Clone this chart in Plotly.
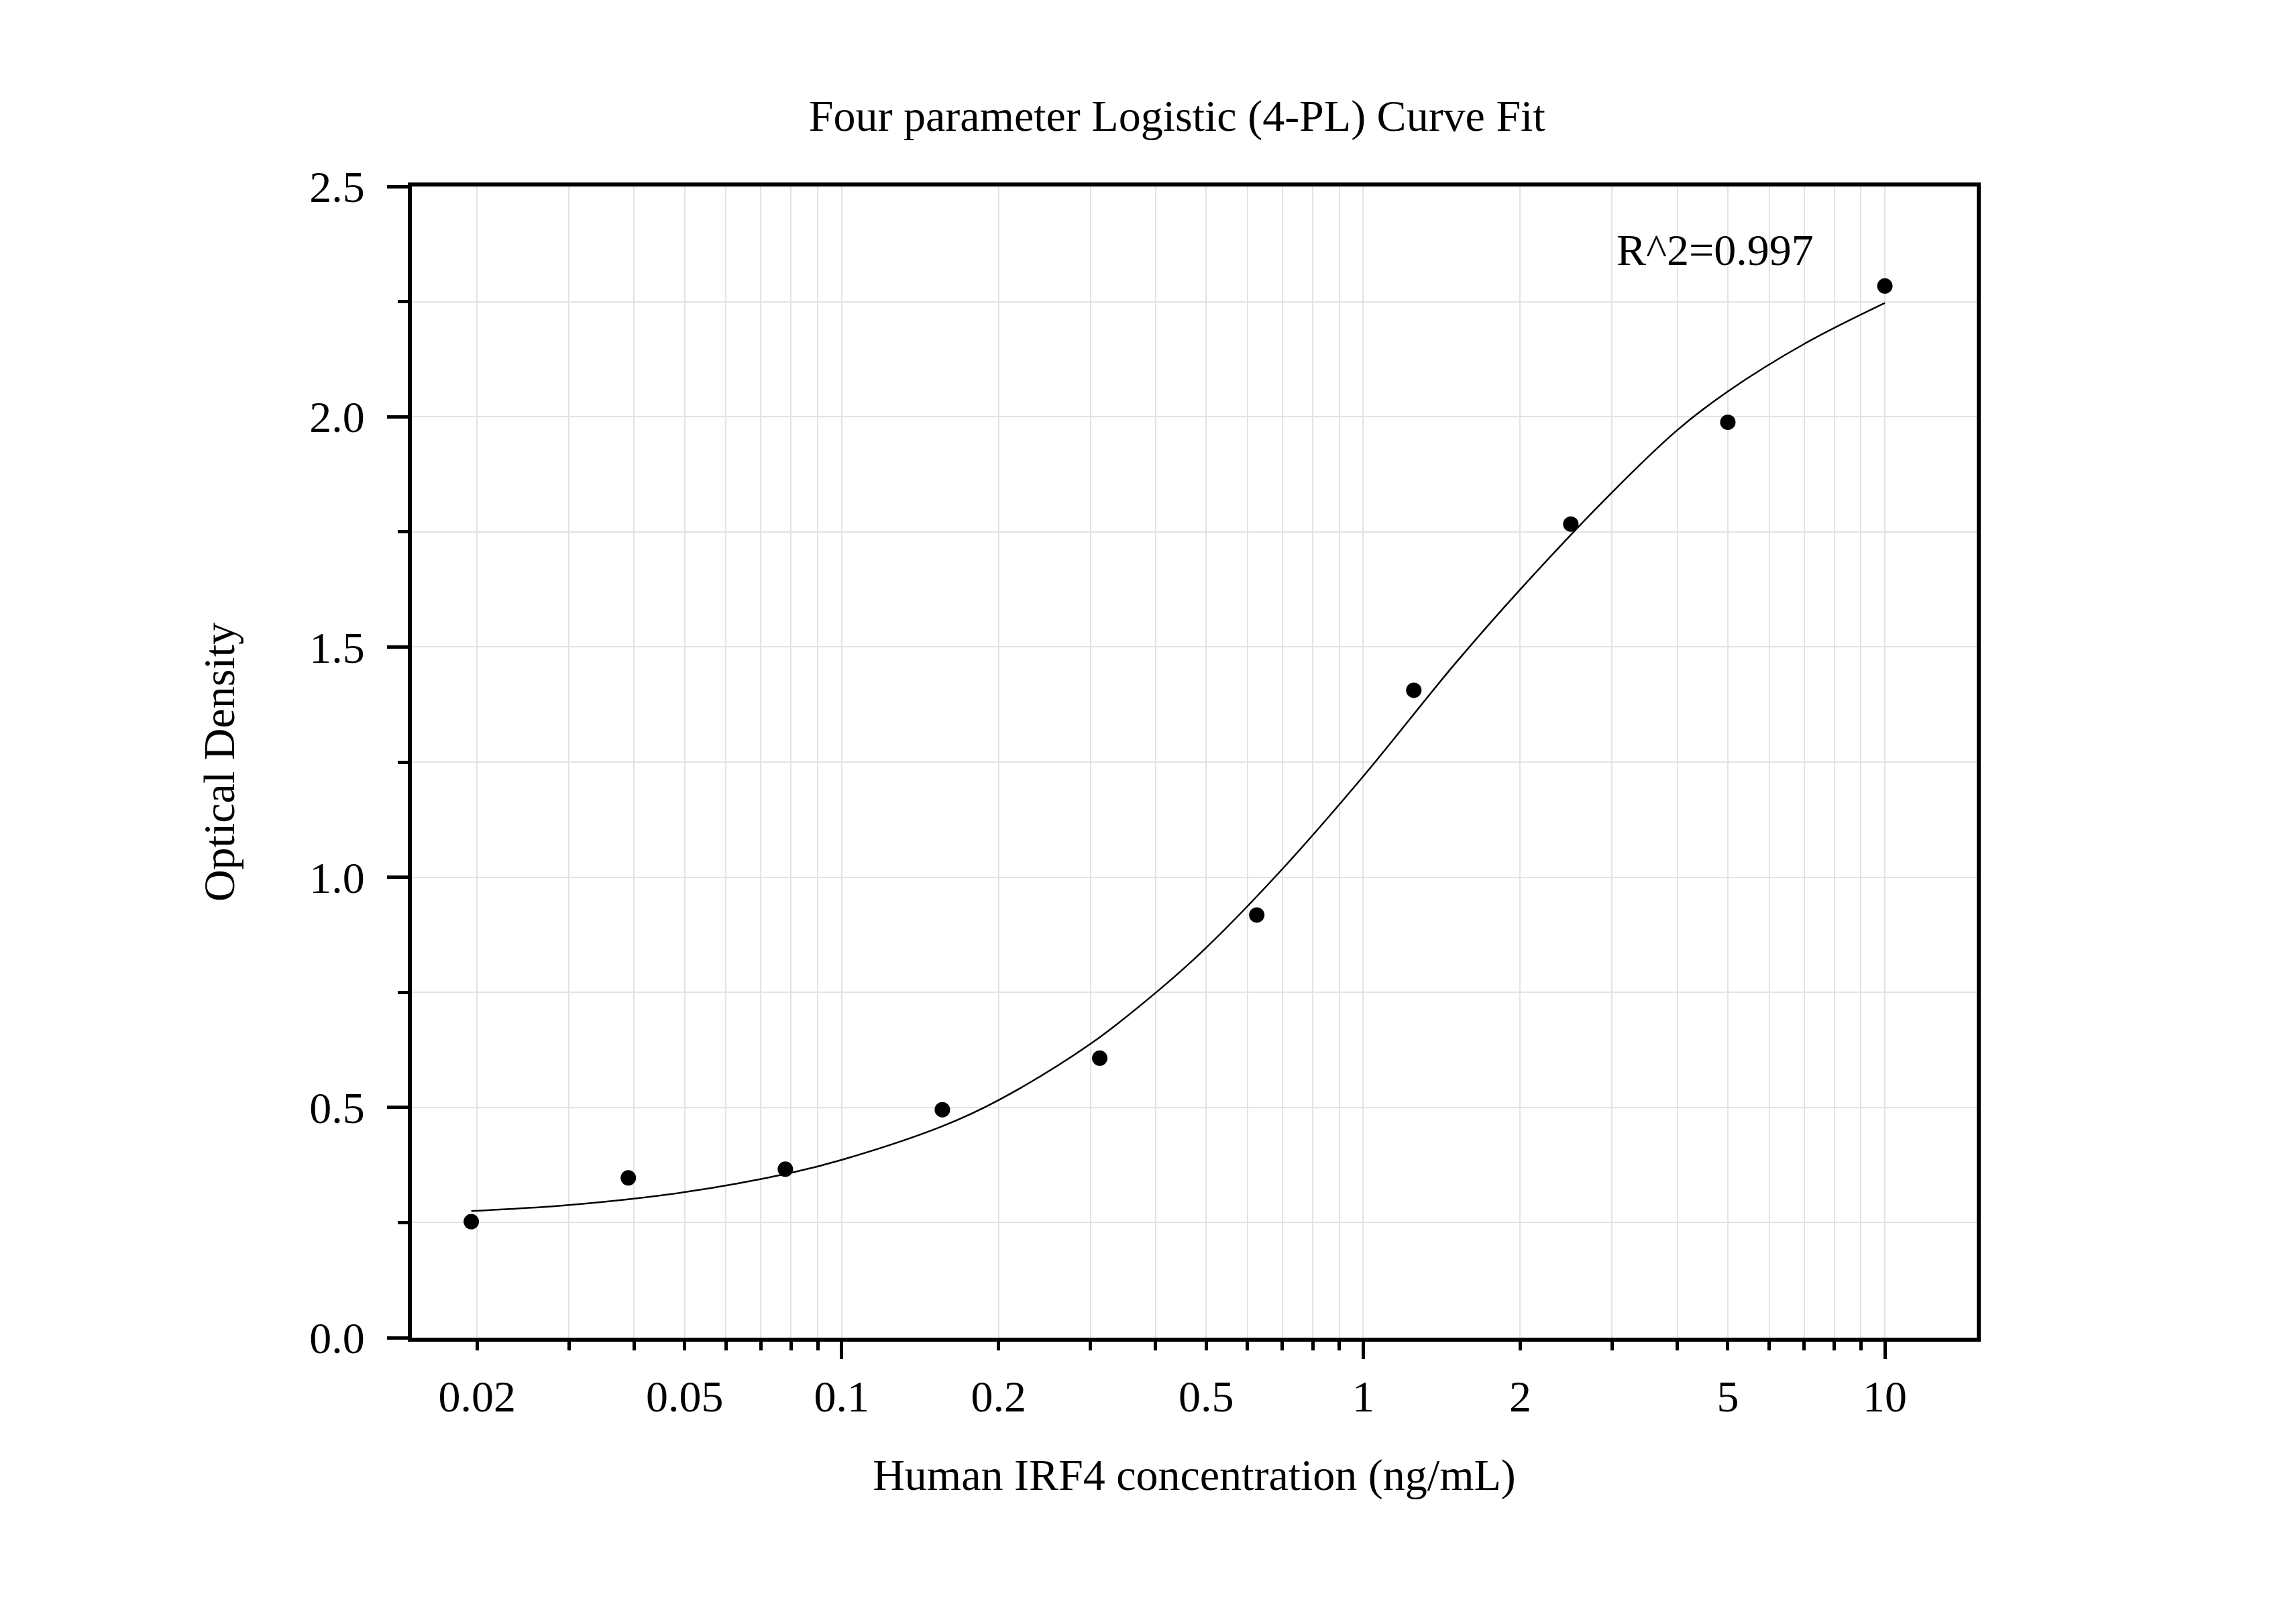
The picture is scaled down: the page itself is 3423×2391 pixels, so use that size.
import numpy as np
import plotly.graph_objects as go

# standards: concentration (ng/mL) and measured optical density
conc = [0.0195, 0.039, 0.078, 0.156, 0.3125, 0.625, 1.25, 2.5, 5, 10]
od = [0.252, 0.347, 0.366, 0.495, 0.607, 0.918, 1.406, 1.767, 1.988, 2.284]

# fitted 4-PL curve
curve_x = [0.0195, 0.03, 0.05, 0.08, 0.1, 0.155, 0.2, 0.3, 0.4, 0.5,
           0.7, 1.0, 1.493, 2.0, 3.0, 4.0, 5.0, 7.0, 10.0]
curve_y = [0.275, 0.288, 0.316, 0.358, 0.386, 0.458, 0.516, 0.638, 0.749, 0.847,
           1.018, 1.219, 1.461, 1.625, 1.836, 1.971, 2.055, 2.158, 2.247]

x_labels = [0.02, 0.05, 0.1, 0.2, 0.5, 1, 2, 5, 10]
x_label_text = ["0.02", "0.05", "0.1", "0.2", "0.5", "1", "2", "5", "10"]
x_minor = [0.03, 0.04, 0.06, 0.07, 0.08, 0.09,
           0.3, 0.4, 0.6, 0.7, 0.8, 0.9,
           3, 4, 6, 7, 8, 9]
x_long = [0.1, 1, 10]

r2_text = "R^2=0.997"

FONT = "Liberation Serif, Times New Roman, serif"
GRID = "#e3e3e3"
FS = 66
xrange = [np.log10(0.015), np.log10(15)]

fig = go.Figure()
fig.add_trace(go.Scatter(x=curve_x, y=curve_y, mode="lines",
                         line=dict(color="black", width=2.5, shape="spline"),
                         showlegend=False))
fig.add_trace(go.Scatter(x=conc, y=od, mode="markers",
                         marker=dict(color="black", size=23),
                         showlegend=False))
# invisible trace on the overlay axis so its long ticks get drawn
fig.add_trace(go.Scatter(x=[conc[0]], y=[od[0]], xaxis="x2", mode="markers",
                         marker=dict(opacity=0), showlegend=False, hoverinfo="skip"))

fig.update_layout(
    width=3407, height=2375,
    margin=dict(l=606, r=468, t=270, b=389),
    plot_bgcolor="white", paper_bgcolor="white",
    font=dict(family=FONT, size=FS, color="black"),
    title=dict(text="Four parameter Logistic (4-PL) Curve Fit",
               x=0.489, xref="paper", y=0.931, yref="container",
               xanchor="center", yanchor="middle",
               font=dict(family=FONT, size=FS, color="black")),
    xaxis=dict(
        type="log", range=xrange,
        tickmode="array", tickvals=x_labels, ticktext=x_label_text,
        ticks="outside", ticklen=13, tickwidth=5, tickcolor="black",
        ticklabelstandoff=12,
        showgrid=True, gridcolor=GRID, gridwidth=2,
        minor=dict(tickmode="array", tickvals=x_minor, ticks="outside",
                   ticklen=13, tickwidth=5, tickcolor="black",
                   showgrid=True, gridcolor=GRID, gridwidth=2),
        showline=True, linecolor="black", linewidth=6, mirror=True,
        zeroline=False,
        title=dict(text="Human IRF4 concentration (ng/mL)", standoff=60,
                   font=dict(family=FONT, size=FS)),
    ),
    xaxis2=dict(
        type="log", range=xrange, overlaying="x", anchor="y", side="bottom",
        tickmode="array", tickvals=x_long, ticks="outside", ticklen=31,
        tickwidth=5, tickcolor="black", showticklabels=False,
        showgrid=False, showline=False, zeroline=False,
    ),
    yaxis=dict(
        range=[0, 2.5], tickmode="linear", tick0=0, dtick=0.5, tickformat=".1f",
        ticks="outside", ticklen=31, tickwidth=5, tickcolor="black",
        ticklabelstandoff=20,
        showgrid=True, gridcolor=GRID, gridwidth=2,
        minor=dict(dtick=0.25, ticks="outside", ticklen=15, tickwidth=5,
                   tickcolor="black", showgrid=True, gridcolor=GRID, gridwidth=2),
        showline=True, linecolor="black", linewidth=6, mirror=True,
        zeroline=False,
        title=dict(text="Optical Density", standoff=92,
                   font=dict(family=FONT, size=FS)),
    ),
)

fig.add_annotation(text=r2_text, xref="paper", yref="paper", x=0.833, y=0.945,
                   xanchor="center", yanchor="middle", showarrow=False,
                   font=dict(family=FONT, size=FS, color="black"))

fig.write_html("out.html")
